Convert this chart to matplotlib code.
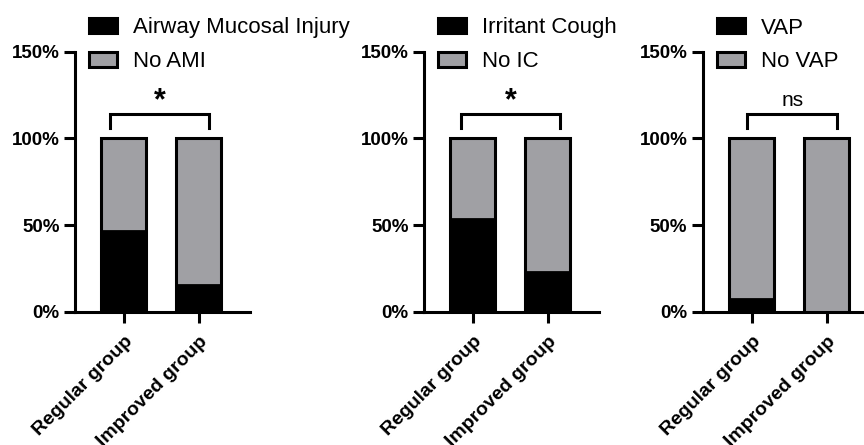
import matplotlib
matplotlib.use("Agg")
import matplotlib.pyplot as plt
import numpy as np

plt.rcParams['font.family'] = ['Liberation Sans', 'DejaVu Sans']

groups = ["Regular group", "Improved group"]
event_labels = ["Airway Mucosal Injury", "Irritant Cough", "VAP"]
no_event_labels = ["No AMI", "No IC", "No VAP"]
event_pct = [[46.5, 15.5], [53.8, 22.8], [7.2, 0.0]]
sig_labels = ["*", "*", "ns"]
yticks = [0, 50, 100, 150]
ytick_labels = ["0%", "50%", "100%", "150%"]

black = "#000000"
gray = "#A0A0A4"

fig = plt.figure(figsize=(8.64, 4.45), dpi=100)
lefts = [75 / 864, 424 / 864, 702.7 / 864]
bottom = 1 - 312 / 445
height = (312 - 51.5) / 445
width = 175 / 864

bracket_x = [(-0.18, 1.13), (-0.16, 1.16), (-0.06, 1.14)]

for i in range(3):
    ax = fig.add_axes([lefts[i], bottom, width, height])
    x = np.arange(len(groups))
    ev = np.array(event_pct[i])
    no = 100 - ev
    b1 = ax.bar(x, ev, width=0.6, color=black, edgecolor=black, linewidth=2,
                label=event_labels[i], zorder=3)
    b2 = ax.bar(x, no, bottom=ev, width=0.6, color=gray, edgecolor=black,
                linewidth=2, label=no_event_labels[i], zorder=3)
    ax.bar(x, 100, width=0.6, fill=False, edgecolor=black, linewidth=2.2, zorder=4)
    ax.set_xlim(-0.653, 1.68)
    ax.set_ylim(0, 150)
    for s in ['top', 'right']:
        ax.spines[s].set_visible(False)
    for s in ['left', 'bottom']:
        ax.spines[s].set_linewidth(2.2)
    ax.set_yticks(yticks)
    ax.set_yticklabels(ytick_labels, fontsize=13.5, fontweight='bold')
    ax.set_xticks(x)
    ax.set_xticklabels(groups, fontsize=14, fontweight='bold', rotation=45,
                       ha='right', va='top', rotation_mode='anchor')
    ax.tick_params(axis='both', length=8, width=2.2, pad=3)
    ax.tick_params(axis='x', pad=7)

    xa, xb = bracket_x[i]
    ax.plot([xa, xa, xb, xb], [106, 114, 114, 106], color=black, lw=2.2,
            clip_on=False, solid_joinstyle='miter')
    if sig_labels[i] == "*":
        ax.text((xa + xb) / 2, 121.5, "*", ha='center', va='center', fontsize=22,
                fontweight='bold')
    else:
        ax.text((xa + xb) / 2, 122.0, "ns", ha='center', va='center', fontsize=15)

    leg = ax.legend(handles=[b1, b2], loc='upper left',
                    bbox_to_anchor=(14 / 175, 1 + 34 / 260.5),
                    frameon=False, fontsize=16, handlelength=1.26,
                    handleheight=0.63, handletextpad=0.72, labelspacing=0.58,
                    borderpad=0, borderaxespad=0)
    for p in leg.get_patches():
        p.set_linewidth(2.2)

fig.savefig("out.png", dpi=100)
